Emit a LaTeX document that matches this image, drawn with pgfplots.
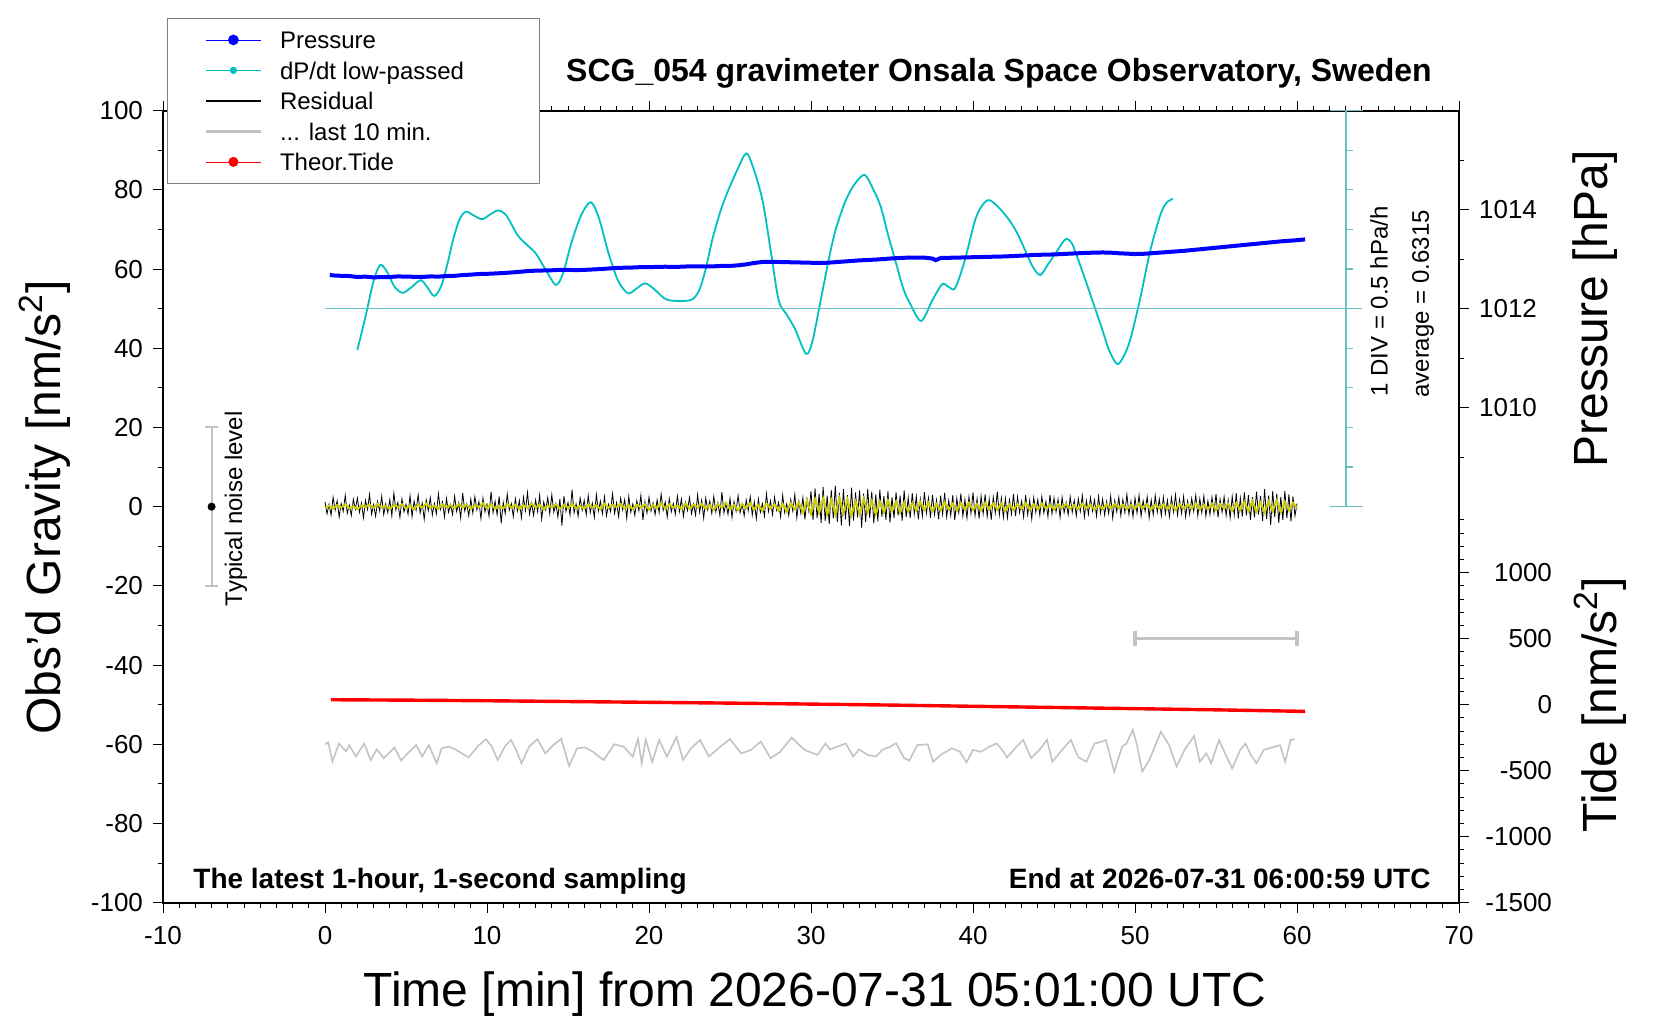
\documentclass[border=0pt]{standalone}
\usepackage{pgfplots}
\pgfplotsset{compat=1.18}
\usepackage{fontspec}
\setmainfont{Liberation Sans}
\definecolor{presblue}{RGB}{0,0,255}
\definecolor{dpcyan}{RGB}{0,192,192}
\definecolor{rulecyan}{RGB}{102,194,194}
\definecolor{resyel}{RGB}{204,204,0}
\definecolor{lastgray}{RGB}{195,195,195}
\definecolor{tidered}{RGB}{255,0,0}
\definecolor{leggray}{RGB}{128,128,128}
\begin{document}
\begin{tikzpicture}[x=1pt,y=1pt]
\begin{axis}[
  name=main,
  at={(81.5pt,58.65pt)}, anchor=south west,
  width=648pt, height=396pt, scale only axis,
  xmin=-10, xmax=70, ymin=-100, ymax=100,
  xtick={-10,0,...,70}, minor x tick num=9,
  ytick={-100,-80,...,100}, minor y tick num=1,
  xtick pos=both, xticklabel pos=lower,
  ytick pos=left,
  tick align=outside,
  major tick length=5pt, minor tick length=2.5pt,
  every tick/.style={black, line width=0.5pt},
  axis line style={line width=0.9pt},
  /pgf/number format/assume math mode=true,
  tick label style={font=\fontsize{13}{15}\selectfont},
  xticklabel style={yshift=-3.5pt},
  yticklabel style={xshift=-1.5pt},
  xlabel={Time [min] from 2026-07-31 05:01:00 UTC},
  ylabel={Obs’d Gravity [nm/s\textsuperscript{2}]},
  label style={font=\fontsize{24}{28}\selectfont},
  xlabel style={at={(axis description cs:0.503,-0.115)}, anchor=center},
  ylabel style={at={(axis description cs:-0.091,0.4987)}, anchor=center},
  clip=false,
  legend cell align=left,
  legend style={
    at={(axis description cs:0.0031,1.1174)}, anchor=north west,
    draw=leggray, fill=white,
    font=\fontsize{12}{14}\selectfont,
    inner xsep=18.5pt, inner ysep=5.2pt,
    row sep=3.85pt, column sep=8.8pt,
    nodes={inner sep=0pt, text height=10pt, text depth=1.4pt},
  },
]
% dP/dt low-passed (chart units: 50 = average, 10 = 0.5 hPa/h); drawn below the pressure
\addplot[dpcyan, line width=0.9pt, smooth, tension=0.5, forget plot]
  coordinates {
(2.0,39.6) (2.5,48) (3.0,57) (3.4,61.0) (3.8,59.5) (4.3,55.5) (4.8,54.0) (5.3,55.3)
(5.9,57.2) (6.3,55.5) (6.75,53.2) (7.2,56) (7.6,62) (7.9,67.3) (8.3,72.5) (8.7,74.5)
(9.2,73.5) (9.7,72.6) (10.2,73.8) (10.7,74.8) (11.2,73.5) (11.9,68.5) (12.5,66) (13.0,64.0)
(13.6,60) (14.25,56.0) (14.7,59) (15.2,66.5) (15.8,73.5) (16.4,76.9) (16.9,73) (17.5,64.0)
(18.1,57) (18.7,53.9) (19.2,55) (19.75,56.4) (20.3,55) (20.95,52.6) (21.5,52.0) (22.6,52.2)
(23.1,54.7) (23.5,60) (23.9,67.3) (24.4,74.5) (24.9,80) (25.5,85.5) (26.0,89.2) (26.4,86)
(27.0,77.5) (27.5,65) (28.0,52.2) (28.5,48.5) (29.0,45.0) (29.7,38.6) (30.1,42) (30.6,52.2)
(31.2,64.5) (31.6,71) (32.15,77.4) (32.7,81.5) (33.3,83.8) (33.8,80.5) (34.3,75.8) (34.8,68)
(35.25,61.5) (35.7,55) (36.1,51.4) (36.8,46.9) (37.5,52.2) (38.1,56.2) (38.5,55.5) (38.9,55.2)
(39.5,62.3) (40.2,73.2) (40.9,77.4) (41.6,75.5) (42.3,72.0) (42.8,68.5) (43.3,64.0) (43.7,60.5)
(44.15,58.5) (44.6,61) (45.1,64.0) (45.7,67.5) (46.1,66.5) (46.5,62.3) (47.0,56.5) (47.5,50.5)
(48.0,44.5) (48.4,39.5) (48.9,36.0) (49.3,38.0) (49.7,42.1) (50.3,52.2) (50.95,64.8) (51.6,74.1)
(52.0,77.0) (52.35,77.7)
};
\addplot[rulecyan, line width=0.6pt, forget plot] coordinates {(0,50) (64,50)};
% Pressure (hPa), mapped onto the gravity scale: 1012 hPa -> 50, 1 hPa = 12.5
\addplot[presblue, line width=2pt,
  legend image code/.code={\draw[presblue, line width=0.4pt] (0pt,0pt) -- (27.5pt,0pt); \fill[presblue] (13.75pt,0pt) circle (1.6pt);}]
  table[x=x, y expr=(\thisrow{p}-1008)*12.5] {
x p
0.3 1012.680
0.5 1012.672
1.0 1012.664
1.5 1012.660
2.0 1012.640
2.5 1012.648
3.0 1012.632
3.5 1012.640
4.0 1012.640
4.5 1012.652
5.0 1012.648
5.5 1012.644
6.0 1012.640
6.5 1012.652
7.0 1012.648
7.5 1012.660
8.0 1012.664
8.5 1012.680
9.0 1012.688
9.5 1012.700
10.0 1012.704
10.5 1012.712
11.0 1012.720
11.5 1012.732
12.0 1012.744
12.5 1012.760
13.0 1012.768
13.5 1012.772
14.0 1012.776
14.5 1012.784
15.0 1012.784
15.5 1012.780
16.0 1012.784
16.5 1012.792
17.0 1012.800
17.5 1012.812
18.0 1012.824
18.5 1012.828
19.0 1012.832
19.5 1012.840
20.0 1012.840
20.5 1012.844
21.0 1012.848
21.5 1012.844
22.0 1012.848
22.5 1012.856
23.0 1012.856
23.5 1012.852
24.0 1012.856
24.5 1012.864
25.0 1012.864
25.5 1012.876
26.0 1012.896
26.5 1012.924
27.0 1012.944
27.5 1012.948
28.0 1012.944
28.5 1012.940
29.0 1012.936
29.5 1012.932
30.0 1012.928
30.5 1012.924
31.0 1012.928
31.5 1012.940
32.0 1012.952
32.5 1012.964
33.0 1012.976
33.5 1012.984
34.0 1012.992
34.5 1013.004
35.0 1013.016
35.5 1013.024
36.0 1013.032
36.5 1013.032
37.0 1013.032
37.5 1013.012
37.7 1012.980
38.0 1013.024
38.5 1013.028
39.0 1013.032
39.5 1013.036
40.0 1013.040
40.5 1013.044
41.0 1013.048
41.5 1013.052
42.0 1013.056
42.5 1013.064
43.0 1013.072
43.5 1013.080
44.0 1013.088
44.5 1013.092
45.0 1013.096
45.5 1013.104
46.0 1013.112
46.5 1013.120
47.0 1013.128
47.5 1013.132
48.0 1013.136
48.5 1013.132
49.0 1013.120
49.5 1013.112
50.0 1013.104
50.5 1013.108
51.0 1013.120
51.5 1013.132
52.0 1013.144
52.5 1013.156
53.0 1013.168
53.5 1013.184
54.0 1013.200
54.5 1013.216
55.0 1013.232
55.5 1013.248
56.0 1013.264
56.5 1013.280
57.0 1013.296
57.5 1013.312
58.0 1013.328
58.5 1013.344
59.0 1013.360
59.5 1013.372
60.0 1013.384
60.5 1013.400
};
\addlegendentry{Pressure}
\addlegendimage{legend image code/.code={\draw[dpcyan, line width=0.4pt] (0pt,0pt) -- (27.5pt,0pt); \fill[dpcyan] (13.75pt,0pt) circle (1.6pt);}}
\addlegendentry{dP/dt low-passed\hspace*{19pt}}
% Residual, 0.125 min steps
\addplot[black, line width=0.4pt,
  legend image code/.code={\draw[black, line width=1.3pt] (0pt,0pt) -- (27.5pt,0pt);}]
  table[row sep=\\, header=false, x expr=\coordindex*0.125, y index=0] {
1.2\\ -1.8\\ 0.6\\ -2.1\\ 2.4\\ -0.9\\ 1.5\\ -2.6\\ 0.8\\ -1.2\\ 2.9\\ -1.7\\ 0.4\\ -2.2\\ 1.9\\ -0.6\\
2.2\\ -1.4\\ 0.9\\ -2.8\\ 1.6\\ -0.7\\ 3.1\\ -1.9\\ 0.5\\ -2.4\\ 1.3\\ -1.1\\ 2.6\\ -2.0\\ 0.7\\ -1.5\\
1.8\\ -2.3\\ 3.4\\ -0.8\\ 1.1\\ -2.7\\ 2.0\\ -1.3\\ 0.6\\ -1.9\\ 2.8\\ -2.5\\ 1.4\\ -0.9\\ 3.0\\ -1.6\\
0.9\\ -3.2\\ 1.7\\ -1.0\\ 2.3\\ -2.1\\ 0.8\\ -1.8\\ 3.3\\ -0.7\\ 1.2\\ -2.6\\ 2.1\\ -1.4\\ 0.5\\ -2.0\\
2.7\\ -1.2\\ 1.0\\ -2.9\\ 3.5\\ -1.1\\ 0.7\\ -2.3\\ 1.9\\ -1.6\\ 2.5\\ -0.8\\ 1.3\\ -3.0\\ 2.2\\ -1.3\\
0.6\\ -2.4\\ 3.8\\ -1.5\\ 1.4\\ -2.0\\ 2.6\\ -4.2\\ 1.1\\ -1.7\\ 3.2\\ -0.9\\ 0.8\\ -2.5\\ 2.0\\ -1.1\\
1.5\\ -2.8\\ 2.4\\ -1.0\\ 3.6\\ -1.9\\ 0.9\\ -2.2\\ 1.7\\ -1.3\\ 2.9\\ -3.1\\ 1.2\\ -0.8\\ 2.3\\ -1.8\\
3.0\\ -1.4\\ 0.8\\ -2.6\\ 1.9\\ -4.8\\ 2.7\\ -1.2\\ 1.1\\ -2.1\\ 4.3\\ -1.6\\ 0.7\\ -2.4\\ 2.2\\ -0.9\\
1.6\\ -2.0\\ 2.8\\ -1.5\\ 0.9\\ -2.7\\ 3.1\\ -1.1\\ 1.4\\ -1.8\\ 2.5\\ -2.3\\ 0.6\\ -1.2\\ 3.3\\ -1.7\\
1.0\\ -2.5\\ 2.1\\ -0.8\\ 1.8\\ -2.9\\ 2.6\\ -1.4\\ 0.7\\ -2.2\\ 1.5\\ -1.0\\ 2.9\\ -3.4\\ 1.3\\ -1.6\\
2.4\\ -1.1\\ 0.9\\ -2.0\\ 1.7\\ -1.5\\ 3.2\\ -0.9\\ 1.2\\ -2.6\\ 2.0\\ -1.3\\ 0.8\\ -1.9\\ 2.7\\ -1.2\\
1.9\\ -2.4\\ 1.1\\ -1.0\\ 2.3\\ -1.8\\ 0.7\\ -2.1\\ 3.0\\ -1.4\\ 1.6\\ -2.9\\ 2.2\\ -0.8\\ 1.4\\ -1.7\\
2.6\\ -1.3\\ 1.0\\ -2.2\\ 3.7\\ -1.6\\ 0.9\\ -1.9\\ 2.1\\ -2.7\\ 1.3\\ -1.1\\ 2.8\\ -1.5\\ 0.6\\ -2.3\\
1.7\\ -1.0\\ 2.5\\ -2.1\\ 1.2\\ -3.0\\ 2.0\\ -1.4\\ 0.8\\ -2.4\\ 3.3\\ -1.2\\ 1.5\\ -2.0\\ 2.4\\ -0.9\\
1.1\\ -2.6\\ 2.9\\ -1.5\\ 0.7\\ -2.2\\ 1.8\\ -1.1\\ 3.1\\ -2.8\\ 1.4\\ -1.7\\ 2.3\\ -3.2\\ 1.9\\ -1.3\\
3.9\\ -3.4\\ 4.6\\ -2.9\\ 3.2\\ -4.1\\ 5.0\\ -3.6\\ 2.8\\ -4.4\\ 4.2\\ -3.0\\ 5.3\\ -3.8\\ 3.5\\ -4.7\\
4.4\\ -3.2\\ 2.9\\ -4.9\\ 4.8\\ -3.5\\ 3.6\\ -2.7\\ 4.1\\ -5.3\\ 3.3\\ -3.9\\ 4.5\\ -2.8\\ 3.8\\ -4.2\\
3.1\\ -3.7\\ 4.3\\ -2.5\\ 2.7\\ -3.3\\ 3.9\\ -4.0\\ 2.4\\ -2.9\\ 3.6\\ -2.2\\ 2.8\\ -3.5\\ 4.1\\ -2.6\\
2.3\\ -2.9\\ 3.4\\ -1.8\\ 2.6\\ -3.2\\ 1.9\\ -2.4\\ 3.7\\ -1.6\\ 2.2\\ -2.8\\ 3.0\\ -2.0\\ 1.7\\ -3.1\\
2.8\\ -1.9\\ 3.5\\ -2.6\\ 1.6\\ -2.2\\ 2.9\\ -3.4\\ 2.1\\ -1.5\\ 3.3\\ -2.4\\ 1.8\\ -2.9\\ 2.5\\ -1.7\\
3.6\\ -2.3\\ 2.0\\ -3.0\\ 2.7\\ -1.8\\ 3.1\\ -2.5\\ 1.9\\ -3.3\\ 2.4\\ -1.6\\ 3.8\\ -2.1\\ 2.2\\ -2.7\\
2.1\\ -2.8\\ 1.7\\ -1.9\\ 3.2\\ -2.4\\ 2.5\\ -1.5\\ 1.4\\ -2.6\\ 2.9\\ -2.0\\ 1.6\\ -3.1\\ 2.3\\ -1.4\\
1.8\\ -2.2\\ 2.6\\ -1.6\\ 1.3\\ -2.5\\ 3.0\\ -1.8\\ 2.2\\ -1.3\\ 1.9\\ -2.7\\ 2.4\\ -1.5\\ 1.1\\ -2.0\\
2.5\\ -1.4\\ 1.6\\ -2.3\\ 2.0\\ -1.2\\ 2.8\\ -2.6\\ 1.5\\ -1.9\\ 2.3\\ -1.1\\ 1.7\\ -2.4\\ 2.6\\ -1.6\\
1.9\\ -2.1\\ 1.3\\ -1.7\\ 2.7\\ -2.9\\ 1.6\\ -1.3\\ 2.4\\ -2.2\\ 1.8\\ -1.5\\ 3.1\\ -1.9\\ 1.4\\ -2.5\\
2.2\\ -1.6\\ 2.9\\ -2.4\\ 1.5\\ -1.2\\ 2.5\\ -2.8\\ 1.7\\ -2.0\\ 2.8\\ -1.4\\ 1.9\\ -2.3\\ 2.4\\ -1.8\\
1.6\\ -2.5\\ 2.3\\ -1.3\\ 3.0\\ -2.1\\ 1.8\\ -1.7\\ 2.6\\ -2.6\\ 1.4\\ -1.9\\ 2.1\\ -1.2\\ 2.9\\ -2.3\\
2.0\\ -1.5\\ 2.7\\ -2.4\\ 1.5\\ -2.0\\ 2.4\\ -1.6\\ 3.2\\ -2.7\\ 1.9\\ -1.4\\ 2.5\\ -2.2\\ 1.7\\ -2.8\\
2.6\\ -2.1\\ 3.4\\ -3.0\\ 2.2\\ -2.5\\ 3.6\\ -2.2\\ 2.9\\ -3.3\\ 2.4\\ -2.7\\ 3.8\\ -2.0\\ 2.7\\ -3.6\\
4.4\\ -3.1\\ 2.8\\ -4.6\\ 3.9\\ -2.6\\ 3.3\\ -4.1\\ 2.5\\ -3.4\\ 4.0\\ -2.9\\ 3.1\\ -3.7\\ 2.6\\ -2.3\\
0.8\\
};
\addlegendentry{Residual}
% smoothed residual (yellow), 0.25 min steps
\addplot[resyel, line width=1pt, forget plot]
  table[row sep=\\, header=false, x expr=\coordindex*0.25, y index=0] {
-0.3\\ 0.2\\ -0.5\\ 0.4\\ -0.2\\ 0.6\\ -0.4\\ 0.1\\ -0.6\\ 0.3\\ -0.1\\ 0.5\\ -0.3\\ 0.7\\ -0.2\\ 0.2\\
-0.5\\ 0.4\\ -0.1\\ 0.6\\ -0.4\\ 0.3\\ -0.6\\ 0.5\\ -0.2\\ 0.8\\ -0.3\\ 0.2\\ -0.5\\ 0.6\\ -0.1\\ 0.4\\
-0.4\\ 0.7\\ -0.2\\ 0.5\\ -0.6\\ 0.3\\ -0.1\\ 0.9\\ -0.3\\ 0.6\\ -0.5\\ 0.2\\ -0.4\\ 0.7\\ -0.2\\ 0.5\\
-0.6\\ 0.4\\ -0.3\\ 0.8\\ -0.2\\ 0.5\\ -0.7\\ 0.3\\ -0.1\\ 0.6\\ -0.5\\ 0.4\\ -0.3\\ 0.7\\ -0.4\\ 0.2\\
-0.5\\ 0.6\\ -0.2\\ 0.4\\ -0.6\\ 0.8\\ -0.3\\ 0.5\\ -0.1\\ 0.7\\ -0.4\\ 0.3\\ -0.6\\ 0.5\\ -0.2\\ 0.6\\
-0.7\\ 0.4\\ -0.3\\ 0.9\\ -0.5\\ 0.6\\ -0.2\\ 0.3\\ -0.6\\ 0.8\\ -0.4\\ 0.5\\ -0.1\\ 0.7\\ -0.5\\ 0.4\\
-0.8\\ 0.6\\ -0.2\\ 1.0\\ -0.6\\ 0.4\\ -0.9\\ 0.7\\ -0.3\\ 0.9\\ -0.7\\ 0.5\\ -1.0\\ 0.8\\ -0.4\\ 0.6\\
-0.9\\ 0.7\\ -1.2\\ 0.9\\ -0.6\\ 1.1\\ -1.4\\ 1.6\\ -1.8\\ 1.9\\ -1.5\\ 2.1\\ -2.0\\ 1.7\\ -1.9\\ 2.2\\
-1.6\\ 1.8\\ -2.1\\ 1.4\\ -1.7\\ 2.0\\ -1.3\\ 1.5\\ -1.9\\ 1.2\\ -1.4\\ 1.6\\ -1.1\\ 1.3\\ -1.5\\ 1.0\\
-1.2\\ 0.9\\ -1.0\\ 1.2\\ -0.8\\ 1.0\\ -1.1\\ 0.7\\ -0.9\\ 1.1\\ -0.7\\ 0.8\\ -1.0\\ 0.9\\ -0.6\\ 1.0\\
-0.8\\ 0.7\\ -0.9\\ 1.0\\ -0.6\\ 0.8\\ -0.7\\ 0.9\\ -1.0\\ 0.6\\ -0.8\\ 0.7\\ -0.5\\ 0.9\\ -0.7\\ 0.6\\
-0.6\\ 0.8\\ -0.4\\ 0.5\\ -0.7\\ 0.6\\ -0.3\\ 0.7\\ -0.5\\ 0.4\\ -0.6\\ 0.8\\ -0.4\\ 0.5\\ -0.7\\ 0.3\\
-0.5\\ 0.6\\ -0.4\\ 0.7\\ -0.3\\ 0.5\\ -0.6\\ 0.4\\ -0.5\\ 0.8\\ -0.3\\ 0.6\\ -0.7\\ 0.5\\ -0.4\\ 0.6\\
-0.6\\ 0.5\\ -0.8\\ 0.7\\ -0.4\\ 0.6\\ -0.5\\ 0.9\\ -0.7\\ 0.5\\ -0.6\\ 0.8\\ -0.9\\ 0.7\\ -0.5\\ 0.8\\
-1.0\\ 0.9\\ -0.8\\ 1.2\\ -1.1\\ 1.4\\ -1.3\\ 1.1\\ -1.5\\ 1.3\\ -1.2\\ 1.6\\ -1.4\\ 1.2\\ -0.9\\ 1.0\\
-0.3\\
};
% last 10 min of the residual, stretched to the full width, offset
\addplot[lastgray, line width=0.8pt,
  legend image code/.code={\draw[lastgray, line width=1.5pt] (0pt,0pt) -- (27.5pt,0pt);}]
  coordinates {
(0.0,-60.0) (0.2,-59.5) (0.46,-64.4) (0.86,-59.8) (1.3,-61.8) (1.5,-60.2) (1.9,-63.1) (2.42,-59.8)
(2.82,-64) (3.2,-61.3) (3.63,-63.5) (4.29,-60.8) (4.7,-64.1) (5.1,-62.3) (5.63,-60.2) (6.0,-63.1)
(6.41,-60.2) (6.9,-64.8) (7.2,-61) (7.65,-60.6) (8.05,-61.3) (8.86,-63.3) (9.5,-60.2) (9.94,-58.7)
(10.3,-60.6) (10.66,-64) (11.1,-60.6) (11.48,-58.9) (11.8,-61.4) (12.13,-64.8) (12.6,-60.6) (13.11,-58.7)
(13.6,-62.3) (14.1,-60.2) (14.58,-58.6) (15.07,-65.5) (15.56,-61) (16.05,-60.8) (16.54,-61.9) (17.2,-64)
(17.85,-60) (18.43,-60.6) (19.0,-63.1) (19.32,-58.6) (19.55,-64.8) (19.8,-58.9) (20.2,-64.4) (20.63,-58.9)
(21.1,-63.1) (21.7,-58.2) (22.1,-63.9) (22.6,-61) (23.15,-58.9) (23.7,-63.1) (24.4,-60.6) (25.0,-58.7)
(25.7,-62.3) (26.3,-61.4) (26.9,-59.3) (27.5,-63.5) (28.1,-61.9) (28.8,-58.3) (29.6,-61.4) (30.4,-62.7)
(30.9,-59.8) (31.17,-61.3) (32.15,-59.8) (32.6,-63.1) (32.97,-61.3) (33.5,-62.7) (34.0,-63.1) (34.4,-61.4)
(34.9,-60.6) (35.25,-59.7) (35.75,-63.5) (36.07,-64.1) (36.56,-60.2) (37.2,-60) (37.54,-64.4) (38.0,-62.7)
(38.7,-61) (39.2,-61.9) (39.6,-64.6) (40.0,-61.4) (40.5,-61.9) (41.0,-60.6) (41.46,-59.8) (41.8,-61.4)
(42.1,-63.3) (42.6,-61) (43.1,-58.9) (43.59,-63.5) (44.1,-61.4) (44.57,-58.9) (44.9,-64.4) (45.4,-61.9)
(46.04,-58.9) (46.5,-63.3) (47.0,-64.4) (47.5,-59.8) (48.0,-59.3) (48.2,-58.9) (48.72,-66.9) (49.2,-60.6)
(49.47,-59.8) (49.86,-56.4) (50.1,-59.8) (50.45,-66.9) (50.9,-63.8) (51.6,-56.8) (52.1,-60.2) (52.57,-65.6)
(53.06,-61.4) (53.65,-57.9) (54.0,-64.4) (54.4,-62.3) (54.7,-64.8) (55.19,-58.9) (55.6,-62.7) (56.0,-66.1)
(56.5,-61.4) (56.82,-59.8) (57.15,-62.7) (57.5,-64.8) (57.95,-61.4) (58.45,-60.8) (58.95,-60.2) (59.27,-64.4)
(59.6,-58.9) (59.86,-58.7)
};
\addlegendentry{... last 10 min.}
% Theoretical tide (nm/s^2), mapped: 0 -> -50, 30 nm/s^2 = 1 unit
\addplot[tidered, line width=1.7pt,
  legend image code/.code={\draw[tidered, line width=0.4pt] (0pt,0pt) -- (27.5pt,0pt); \fill[tidered] (13.75pt,0pt) circle (1.6pt);}]
  table[x=x, y expr=\thisrow{t}/30-50] {
x t
0.36 37.5
5 34.5
10 30
15 24
20 18
25 12
30 4.5
35 -3
40 -12
45 -21
50 -30
55 -39
60 -49.5
60.5 -51
};
\addlegendentry{Theor.Tide}
% typical noise level bar
\addplot[forget plot, only marks, black, mark=*, mark size=1.8pt,
  error bars/.cd, y dir=both, y explicit,
  error bar style={draw=lastgray, line width=1pt},
  error mark options={rotate=90, draw=lastgray, line width=1pt, mark size=3.2pt}]
  coordinates {(-7,0) +- (0,20)};
% 10-minute scale bar
\addplot[forget plot, draw=none, mark=none,
  error bars/.cd, x dir=both, x explicit,
  error bar style={draw=lastgray, line width=1.6pt},
  error mark options={rotate=90, draw=lastgray, line width=1.6pt, mark size=3.6pt}]
  coordinates {(55,-33.333) +- (5,0)};
\node[rotate=90, font=\fontsize{12}{14}\selectfont] at (axis cs:-5.5,-0.5) {Typical noise level};
\node[rotate=90, font=\fontsize{12}{14}\selectfont] at (axis cs:65.06,51.8) {1 DIV = 0.5 hPa/h};
\node[rotate=90, font=\fontsize{12}{14}\selectfont] at (axis cs:67.78,51.2) {average = 0.6315};
\node[rotate=90, font=\fontsize{24}{28}\selectfont] at (axis description cs:1.105,0.75) {Pressure [hPa]};
\node[rotate=90, font=\fontsize{24}{28}\selectfont] at (axis description cs:1.109,0.25) {Tide [nm/s\textsuperscript{2}]};
\end{axis}
% Pressure scale (right)
\begin{axis}[
  at={(81.5pt,58.65pt)}, anchor=south west,
  width=648pt, height=396pt, scale only axis,
  xmin=-10, xmax=70, ymin=-100, ymax=100,
  axis x line=none, axis y line*=right,
  ytick={25,50,75}, yticklabels={1010,1012,1014},
  minor ytick={12.5,37.5,62.5,87.5},
  tick align=outside, major tick length=5pt, minor tick length=2.5pt,
  every tick/.style={black, line width=0.5pt},
  axis line style={line width=0.9pt},
  yticklabel style={font=\fontsize{13}{15}\selectfont, anchor=west, xshift=1.5pt},
]
\end{axis}
% Tide scale (right)
\begin{axis}[
  at={(81.5pt,58.65pt)}, anchor=south west,
  width=648pt, height=396pt, scale only axis,
  xmin=-10, xmax=70, ymin=-100, ymax=100,
  axis x line=none, axis y line*=right,
  ytick={-100,-83.333,-66.667,-50,-33.333,-16.667},
  yticklabels={-1500,-1000,-500,0,500,1000},
  minor ytick={-96.667,-93.333,-90,-86.667,-80,-76.667,-73.333,-70,-63.333,-60,-56.667,-53.333,-46.667,-43.333,-40,-36.667,-30,-26.667,-23.333,-20,-13.333,-10,-6.667,-3.333},
  tick align=outside, major tick length=5pt, minor tick length=2.5pt,
  every tick/.style={black, line width=0.5pt},
  axis line style={line width=0.9pt},
  yticklabel style={font=\fontsize{13}{15}\selectfont, anchor=east, xshift=45pt},
]
\end{axis}
% dP/dt ruler
\begin{axis}[
  at={(673pt,256.65pt)}, anchor=south west,
  width=10pt, height=198pt, scale only axis,
  xmin=0, xmax=1, ymin=0, ymax=100,
  axis x line=none, axis y line*=left,
  ytick={10,20,...,90}, yticklabels={},
  extra y ticks={0,100}, extra y tick labels={},
  extra y tick style={major tick length=16.5pt, tick align=center},
  tick align=inside, major tick length=3.5pt,
  y axis line style={rulecyan, line width=0.6pt},
  every tick/.style={rulecyan, line width=0.6pt},
]
\end{axis}
\node[anchor=base, font=\bfseries\fontsize{16}{19}\selectfont] at (499.5,469.2) {SCG\_054 gravimeter Onsala Space Observatory, Sweden};
\node[anchor=base west, inner sep=0pt, font=\bfseries\fontsize{14}{17}\selectfont] at (96.5,65.8) {The latest 1-hour, 1-second sampling};
\node[anchor=base east, inner sep=0pt, font=\bfseries\fontsize{14}{17}\selectfont] at (715.5,65.8) {End at 2026-07-31 06:00:59 UTC};
\path (0,0) rectangle (830,510);
\end{tikzpicture}
\end{document}
